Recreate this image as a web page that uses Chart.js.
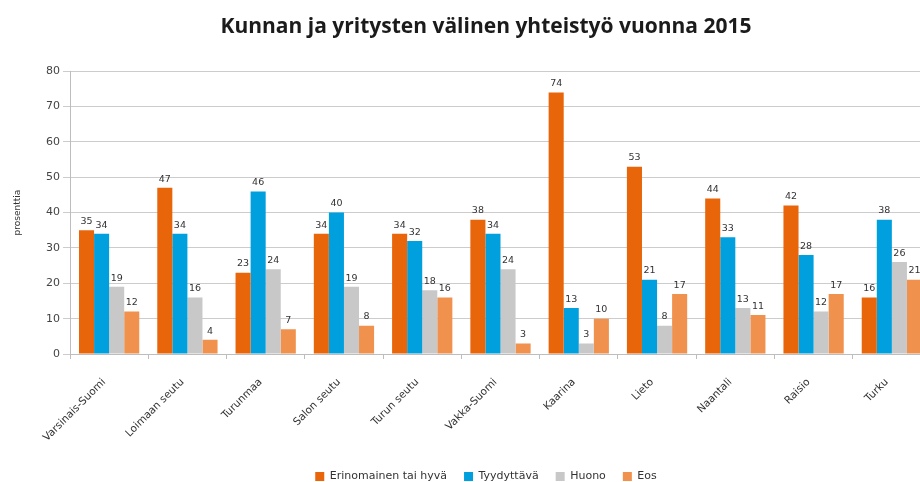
<!DOCTYPE html>
<html>
<head>
<meta charset="utf-8">
<script src="https://cdn.jsdelivr.net/npm/chart.js@4/dist/chart.umd.min.js"></script>
<style>
  html, body { margin: 0; padding: 0; background: #fff; overflow: hidden; width: 920px; height: 482px; }
  canvas { display: block; }
</style>
</head>
<body>
<canvas id="c" width="972" height="492"></canvas>
<script>
const titleText = "Kunnan ja yritysten välinen yhteistyö vuonna 2015";
const yAxisTitle = "prosenttia";
const categories = ["Varsinais-Suomi", "Loimaan seutu", "Turunmaa", "Salon seutu", "Turun seutu", "Vakka-Suomi", "Kaarina", "Lieto", "Naantali", "Raisio", "Turku"];
const seriesNames = ["Erinomainen tai hyvä", "Tyydyttävä", "Huono", "Eos"];
const erinomainen = [35, 47, 23, 34, 34, 38, 74, 53, 44, 42, 16];
const tyydyttava  = [34, 34, 46, 40, 32, 34, 13, 21, 33, 28, 38];
const huono       = [19, 16, 24, 19, 18, 24, 3, 8, 13, 12, 26];
const eos         = [12, 4, 7, 8, 16, 3, 10, 17, 11, 17, 21];
const yTicks = [0, 10, 20, 30, 40, 50, 60, 70, 80];
const colors = ["#E8650A", "#00A0DF", "#C8C8C8", "#F0914D"];

const FONT = "'DejaVu Sans', Verdana, sans-serif";

const dataLabels = {
  id: 'dataLabels',
  afterDatasetsDraw(chart) {
    const ctx = chart.ctx;
    ctx.save();
    ctx.font = "9.5px " + FONT;
    ctx.fillStyle = "#333";
    ctx.textAlign = "center";
    ctx.textBaseline = "bottom";
    chart.data.datasets.forEach((ds, i) => {
      const meta = chart.getDatasetMeta(i);
      meta.data.forEach((el, j) => {
        ctx.fillText(String(ds.data[j]), el.x, el.y - 4);
      });
    });
    ctx.restore();
  }
};

new Chart(document.getElementById('c'), {
  type: 'bar',
  data: {
    labels: categories,
    datasets: [erinomainen, tyydyttava, huono, eos].map((d, i) => ({
      label: seriesNames[i],
      data: d,
      backgroundColor: colors[i],
      borderWidth: 0,
      categoryPercentage: 0.77,
      barPercentage: 1.0
    }))
  },
  options: {
    responsive: false,
    animation: false,
    devicePixelRatio: 1,
    layout: { padding: { top: 0, left: 0, right: 0, bottom: 0 } },
    plugins: {
      title: {
        display: true,
        text: titleText,
        color: "#1b1b1b",
        font: { family: "'Open Sans', sans-serif", size: 21, weight: 'bold', lineHeight: 1.2 },
        padding: { top: 14, bottom: 32 }
      },
      legend: {
        position: 'bottom',
        labels: {
          boxWidth: 9,
          boxHeight: 9,
          padding: 17,
          color: "#333",
          font: { family: FONT, size: 11 }
        }
      },
      tooltip: { enabled: false }
    },
    scales: {
      x: {
        grid: { offset: true, drawOnChartArea: false, tickLength: 5, color: "#bdbdbd" },
        border: { color: "#bdbdbd" },
        ticks: { minRotation: 45, maxRotation: 45, padding: 17, labelOffset: -5, color: "#333", font: { family: FONT, size: 10.5 } },
        afterFit: s => { s.height = 100; }
      },
      y: {
        min: 0, max: 80,
        afterBuildTicks: s => { s.ticks = yTicks.map(v => ({ value: v })); },
        grid: { color: "#cccccc", tickLength: 7 },
        border: { color: "#bdbdbd" },
        ticks: { padding: 3, color: "#444", font: { family: FONT, size: 11 } },
        title: { display: true, text: yAxisTitle, color: "#333", font: { family: FONT, size: 9 }, padding: { top: 12, bottom: 0 } },
        afterFit: s => { s.width = 70; }
      },
      yR: {
        position: 'right',
        display: true,
        grid: { display: false },
        border: { display: false },
        ticks: { display: false },
        afterFit: s => { s.width = 41; }
      }
    }
  },
  plugins: [dataLabels]
});
</script>
</body>
</html>
